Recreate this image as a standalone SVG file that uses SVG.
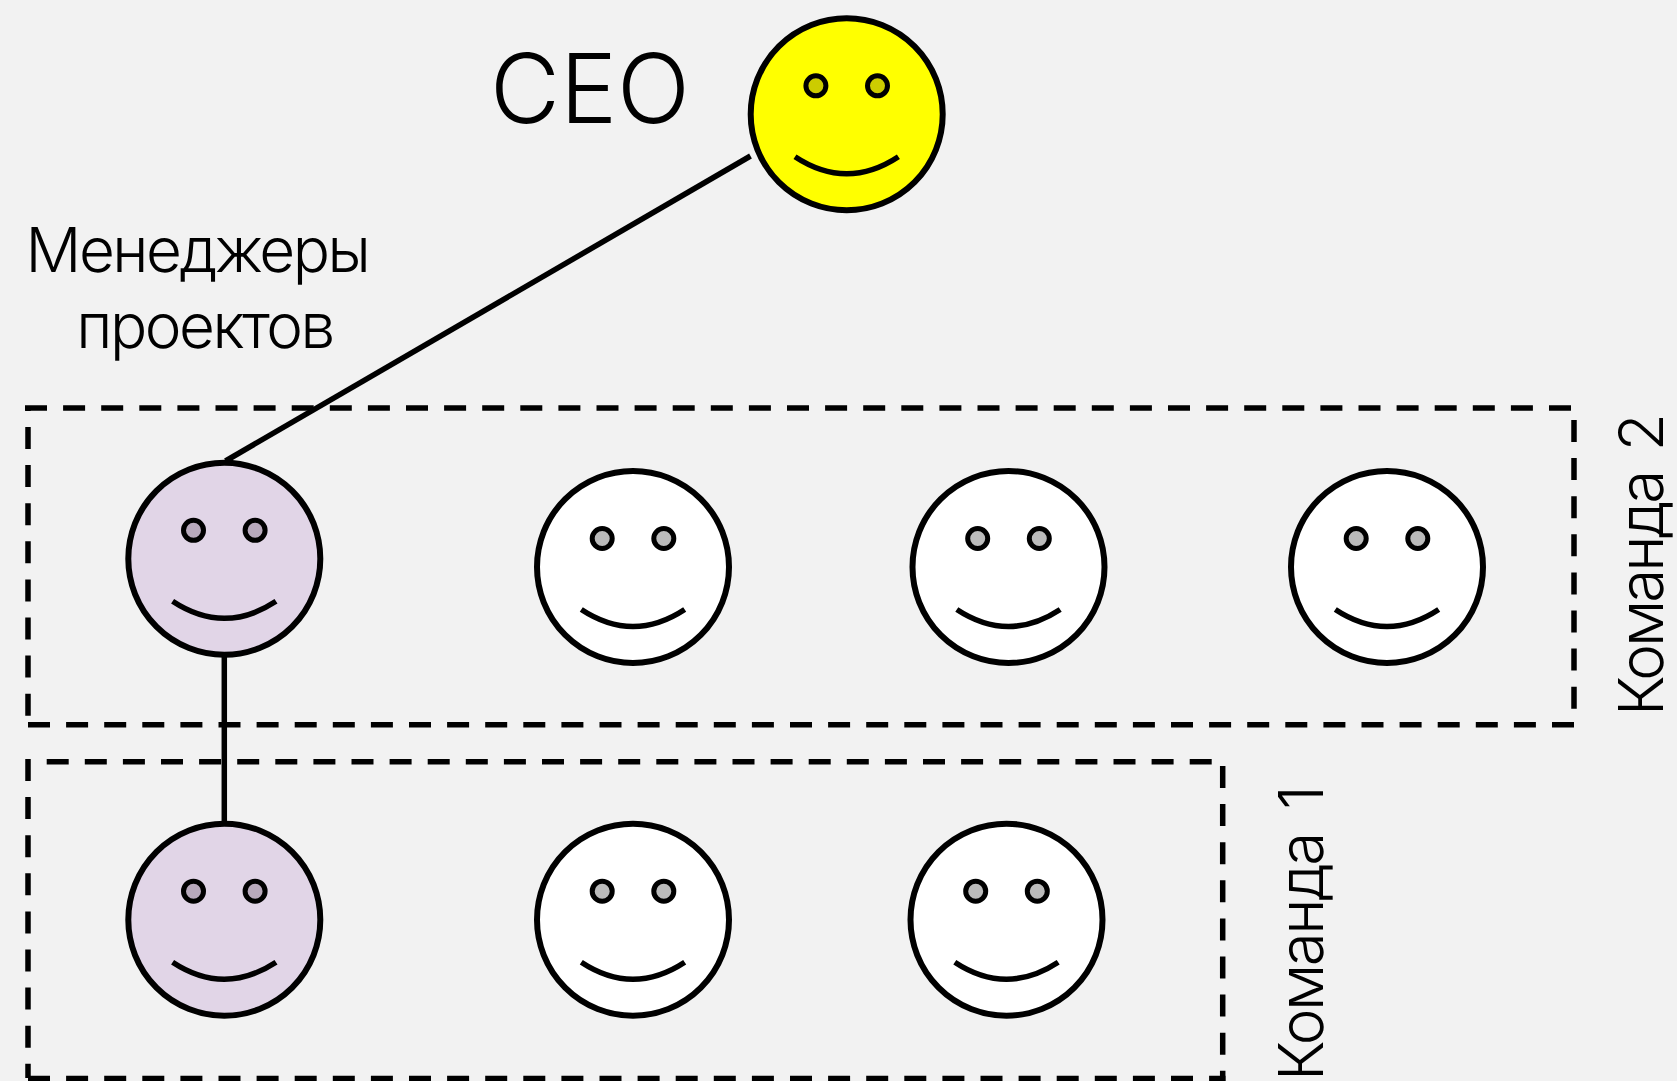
<svg xmlns="http://www.w3.org/2000/svg" width="1677" height="1081" viewBox="0 0 1677 1081">
<style>
.f{stroke:#000;stroke-width:6}
.w{fill:#fff}.p{fill:#e1d5e7}.y{fill:#ff0}
.e{stroke:#000;stroke-width:5;fill:#bbb}
.ey{fill:#cc0}.ep{fill:#b8a9bc}
.s{fill:none;stroke:#000;stroke-width:5.500}
.b{fill:none;stroke:#000;stroke-width:5.500;stroke-dasharray:22 16.100}
.c{stroke:#000;stroke-width:5.500;fill:none}
text{font-family:"Inter","Liberation Sans",sans-serif;font-weight:300;fill:#000}
.t{font-size:62px;letter-spacing:-2.500px;word-spacing:7px}
</style>
<defs>
<g id="face">
<circle class="e" cx="-30.800" cy="-28.500" r="10"/>
<circle class="e" cx="30.800" cy="-28.500" r="10"/>
<path class="s" d="M-51.700 42.500Q0 76.500 51.700 42.500"/>
</g>
</defs>
<rect width="1677" height="1081" fill="#f2f2f2"/>
<g id="team-2"><path class="b" d="M25 408H1571M1574 420V709M1574 724.800H28M28 715.700V408"/></g>
<g id="team-1"><path class="b" d="M46.700 761.800H1212M1222.700 766V1078M28 1078.500H1225.700M28 759V1078"/></g>
<g id="connectors">
<path class="c" d="M750.500 156L225.500 461"/>
<path class="c" d="M224.300 655V823"/>
</g>
<g id="ceo" transform="translate(846.700 114.300)"><circle class="f y" r="96"/><circle class="e ey" cx="-30.800" cy="-28.500" r="10"/><circle class="e ey" cx="30.800" cy="-28.500" r="10"/><path class="s" d="M-51.700 42.500Q0 76.500 51.700 42.500"/></g>
<g id="m2" transform="translate(224.300 558.800)"><circle class="f p" r="96"/><circle class="e ep" cx="-30.800" cy="-28.500" r="10"/><circle class="e ep" cx="30.800" cy="-28.500" r="10"/><path class="s" d="M-51.700 42.500Q0 76.500 51.700 42.500"/></g>
<g id="m1" transform="translate(224.300 919.700)"><circle class="f p" r="96"/><circle class="e ep" cx="-30.800" cy="-28.500" r="10"/><circle class="e ep" cx="30.800" cy="-28.500" r="10"/><path class="s" d="M-51.700 42.500Q0 76.500 51.700 42.500"/></g>
<g id="a1" transform="translate(633 567)"><circle class="f w" r="96"/><use href="#face"/></g>
<g id="a2" transform="translate(1008.500 567)"><circle class="f w" r="96"/><use href="#face"/></g>
<g id="a3" transform="translate(1387 567)"><circle class="f w" r="96"/><use href="#face"/></g>
<g id="b1" transform="translate(633 919.700)"><circle class="f w" r="96"/><use href="#face"/></g>
<g id="b2" transform="translate(1006.500 919.700)"><circle class="f w" r="96"/><use href="#face"/></g>
<g id="labels">
<text x="590" y="123" font-size="96" text-anchor="middle">CEO</text>
<text class="t" x="197" y="271.500" text-anchor="middle">Менеджеры</text>
<text class="t" x="204.500" y="348" text-anchor="middle">проектов</text>
<text class="t" style="letter-spacing:-3px" transform="translate(1662.700 716) rotate(-90)">Команда 2</text>
<text class="t" style="word-spacing:9.500px" transform="translate(1323.300 1081) rotate(-90)">Команда 1</text>
</g>
</svg>
